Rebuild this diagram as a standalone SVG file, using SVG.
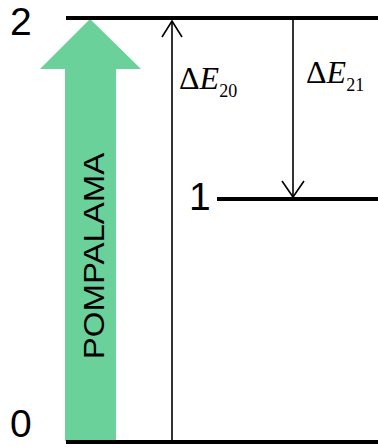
<svg xmlns="http://www.w3.org/2000/svg" width="378" height="447" viewBox="0 0 378 447">
<style>
.lvl{stroke:#000;stroke-width:4;fill:none}
.conn{stroke:#000;stroke-width:1.6;fill:none}
.num{font-family:"Liberation Sans","Open Sans",sans-serif;font-size:39px;fill:#000}
.dl{font-family:"Liberation Serif","Times New Roman",serif;font-size:32px;fill:#000}
.sub{font-size:18px;font-style:normal}
</style>
<rect width="378" height="447" fill="#fff"/>
<g id="pump">
<polygon points="90,19 141,69 116,69 116,441 65,441 65,69 40,69" fill="#6BD19B"/>
<text transform="translate(103.5,256) rotate(-90) scale(1.137,1)" text-anchor="middle" font-family="'Liberation Sans','Open Sans',sans-serif" font-size="29">POMPALAMA</text>
</g>
<g id="level2">
<line class="lvl" x1="66" y1="18" x2="378" y2="18"/>
<text class="num" x="10" y="35">2</text>
</g>
<g id="level1">
<line class="lvl" x1="217" y1="199" x2="378" y2="199"/>
<text class="num" x="189" y="210">1</text>
</g>
<g id="level0">
<line class="lvl" x1="66" y1="442" x2="378" y2="442"/>
<text class="num" x="10" y="437">0</text>
</g>
<g id="connectors">
<line class="conn" x1="172" y1="440" x2="172" y2="21"/>
<polyline class="conn" points="162,37 172,21 182,37"/>
<line class="conn" x1="293" y1="20" x2="293" y2="196"/>
<polyline class="conn" points="282,181 293,197 304,181"/>
</g>
<g id="labels">
<text class="dl" x="179" y="89">Δ<tspan font-style="italic">E</tspan><tspan class="sub" dy="8">20</tspan></text>
<text class="dl" x="306" y="83">Δ<tspan font-style="italic">E</tspan><tspan class="sub" dy="8">21</tspan></text>
</g>
</svg>
